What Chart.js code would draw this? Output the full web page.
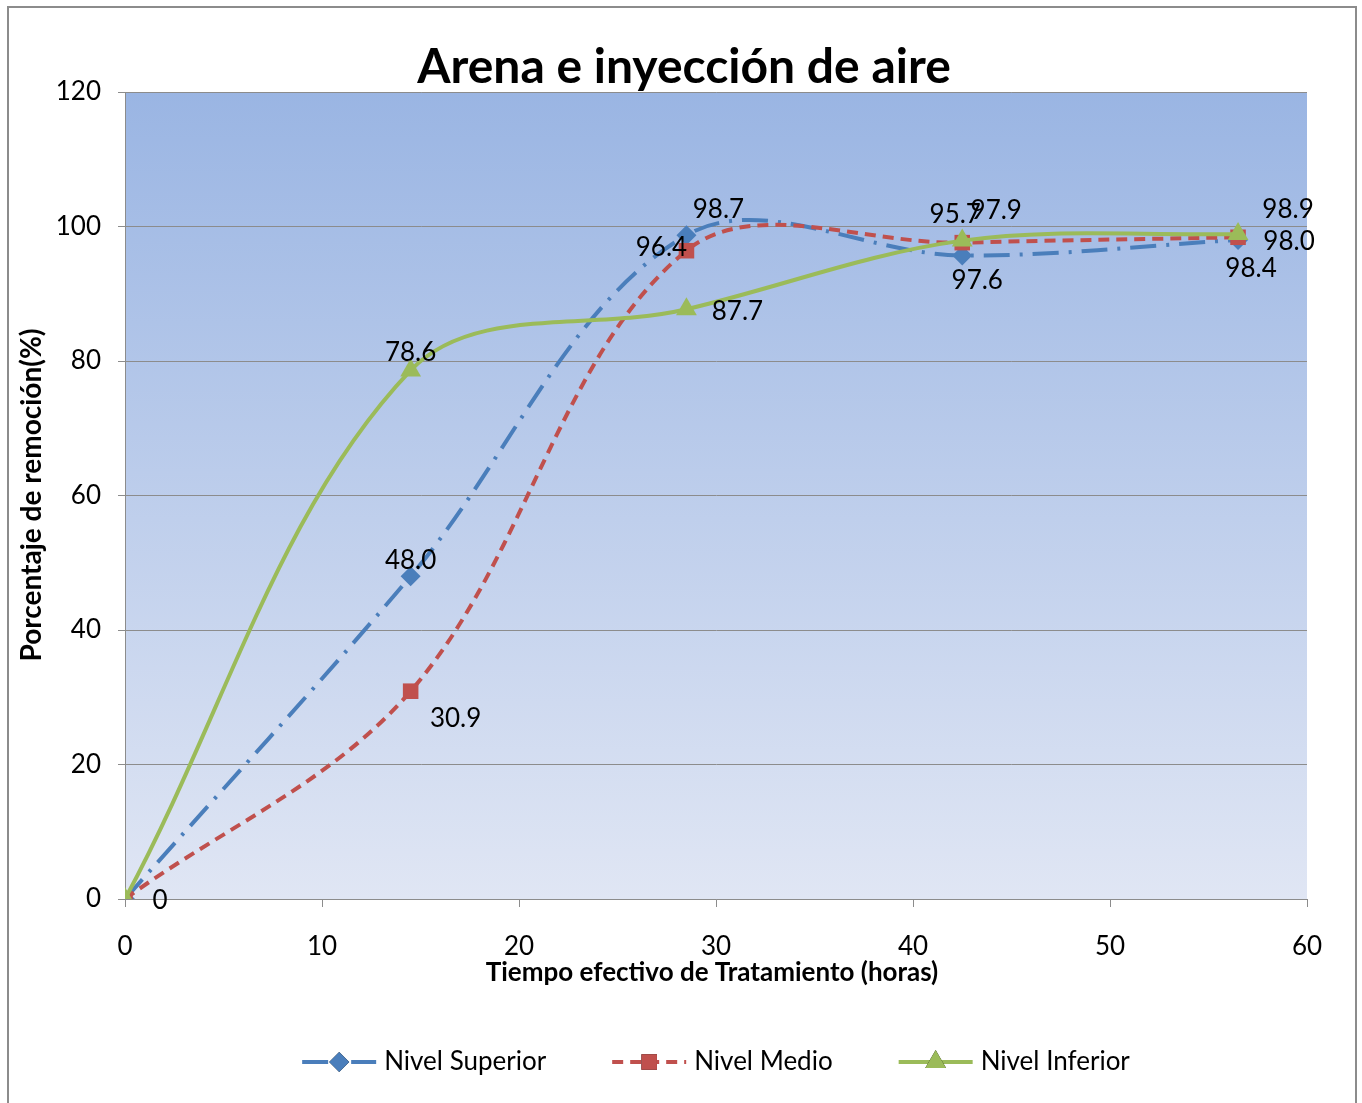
<!DOCTYPE html>
<html>
<head>
<meta charset="utf-8">
<script src="https://cdn.jsdelivr.net/npm/chart.js@4.4.0/dist/chart.umd.min.js"></script>
<style>
  html, body { margin: 0; padding: 0; background: #ffffff; }
  canvas { display: block; }
</style>
</head>
<body>
<canvas id="chart" width="1362" height="1103"></canvas>
<script>
const hours = [0, 14.5, 28.5, 42.5, 56.5];
const nivelSuperior = [0, 48.0, 98.7, 95.7, 98.0];
const nivelMedio = [0, 30.9, 96.4, 97.6, 98.4];
const nivelInferior = [0, 78.6, 87.7, 97.9, 98.9];
const seriesNames = ["Nivel Superior", "Nivel Medio", "Nivel Inferior"];
const chartTitle = "Arena e inyección de aire";
const xTitle = "Tiempo efectivo de Tratamiento (horas)";
const yTitle = "Porcentaje de remoción(%)";

const FONT = "Lato, 'Open Sans', sans-serif";

function toPoints(values) {
  return values.map((v, i) => ({ x: hours[i], y: v }));
}

// where each value label sits relative to its point (dx, dy); null = no label
const labelOffsets = [
  [null, [0, -16], [32, -26], [-7, -41], [51, 2]],
  [null, [45, 27], [-25, -3], [15, 38], [13, 31]],
  [[35, 2], [0, -18], [51, 2], [34, -30], [50, -24]]
];

const bgPlugin = {
  id: "bgPlugin",
  beforeDraw(chart) {
    const ctx = chart.ctx;
    const a = chart.chartArea;
    ctx.save();
    ctx.fillStyle = "#ffffff";
    ctx.fillRect(0, 0, chart.width, chart.height);
    const g = ctx.createLinearGradient(0, a.top, 0, a.bottom);
    g.addColorStop(0, "#9ab5e3");
    g.addColorStop(1, "#e0e6f4");
    ctx.fillStyle = g;
    ctx.fillRect(a.left, a.top, a.right - a.left, a.bottom - a.top);
    ctx.strokeStyle = "#8c8c8c";
    ctx.lineWidth = 2;
    ctx.strokeRect(8, 7, 1348, 1100);
    ctx.restore();
  }
};

const textPlugin = {
  id: "textPlugin",
  afterDraw(chart) {
    const ctx = chart.ctx;
    const a = chart.chartArea;
    ctx.save();
    ctx.fillStyle = "#000000";
    ctx.textAlign = "center";
    ctx.textBaseline = "middle";

    ctx.font = "bold 48px " + FONT;
    ctx.fillText(chartTitle, 684, 68);

    ctx.font = "bold 26px " + FONT;
    ctx.fillText(xTitle, 712, 973);
    ctx.save();
    ctx.translate(32, 495);
    ctx.rotate(-Math.PI / 2);
    ctx.font = "bold 28px " + FONT;
    ctx.fillText(yTitle, 0, 0);
    ctx.restore();

    // value labels
    ctx.font = "26px " + FONT;
    chart.data.datasets.forEach((ds, di) => {
      const meta = chart.getDatasetMeta(di);
      meta.data.forEach((pt, i) => {
        const off = labelOffsets[di][i];
        if (!off) return;
        ctx.fillText(ds.data[i].y === 0 ? "0" : ds.data[i].y.toFixed(1), pt.x + off[0], pt.y + off[1]);
      });
    });

    // legend
    const legendY = 1062;
    const sampleW = 74, textGap = 8, itemGap = 66;
    ctx.font = "26px " + FONT;
    const widths = seriesNames.map(n => sampleW + textGap + ctx.measureText(n).width);
    const total = widths.reduce((s, w) => s + w, 0) + itemGap * (widths.length - 1);
    let x = (a.left + a.right) / 2 - total / 2;
    chart.data.datasets.forEach((ds, di) => {
      ctx.save();
      ctx.strokeStyle = ds.borderColor;
      ctx.lineWidth = ds.borderWidth;
      ctx.setLineDash(ds.borderDash || []);
      ctx.beginPath();
      ctx.moveTo(x, legendY);
      ctx.lineTo(x + sampleW, legendY);
      ctx.stroke();
      ctx.restore();
      Chart.helpers.drawPoint(ctx, {
        pointStyle: ds.pointStyle,
        radius: ds.pointRadius,
        rotation: 0,
        borderWidth: 0
      }, x + sampleW / 2, legendY);
      ctx.fillStyle = ds.pointBackgroundColor;
      ctx.fill();
      ctx.fillStyle = "#000000";
      ctx.textAlign = "left";
      ctx.fillText(seriesNames[di], x + sampleW + textGap, legendY);
      x += widths[di] + itemGap;
    });
    ctx.restore();
  }
};

new Chart(document.getElementById("chart").getContext("2d"), {
  type: "line",
  data: {
    datasets: [
      {
        label: seriesNames[0],
        data: toPoints(nivelSuperior),
        borderColor: "#4a7ebb",
        pointBackgroundColor: "#4a7ebb",
        pointBorderWidth: 0,
        borderWidth: 4,
        borderDash: [26, 10, 3, 10],
        pointStyle: "rectRot",
        pointRadius: 10,
        tension: 0.35,
        order: 2
      },
      {
        label: seriesNames[1],
        data: toPoints(nivelMedio),
        borderColor: "#c0504d",
        pointBackgroundColor: "#c0504d",
        pointBorderWidth: 0,
        borderWidth: 4,
        borderDash: [11, 7],
        pointStyle: "rect",
        pointRadius: 11,
        tension: 0.35,
        order: 1
      },
      {
        label: seriesNames[2],
        data: toPoints(nivelInferior),
        borderColor: "#9bbb59",
        pointBackgroundColor: "#9bbb59",
        pointBorderWidth: 0,
        borderWidth: 4,
        pointStyle: "triangle",
        pointRadius: 12,
        tension: 0.35,
        order: 0
      }
    ]
  },
  options: {
    responsive: false,
    animation: false,
    events: [],
    layout: { padding: { top: 92, right: 55, bottom: 144, left: 0 } },
    plugins: {
      legend: { display: false },
      title: { display: false },
      tooltip: { enabled: false }
    },
    scales: {
      x: {
        type: "linear",
        min: 0,
        max: 60,
        afterFit(scale) { scale.height = 60; },
        ticks: { stepSize: 10, color: "#000000", font: { family: FONT, size: 26 }, padding: 24, maxRotation: 0 },
        grid: { drawOnChartArea: false, tickLength: 8, color: "#8c8c8c" },
        border: { display: true, color: "#8c8c8c", width: 1 }
      },
      y: {
        min: 0,
        max: 120,
        afterFit(scale) { scale.width = 125; },
        ticks: { stepSize: 20, color: "#000000", font: { family: FONT, size: 26 }, padding: 17 },
        grid: { color: "#8c8c8c", tickLength: 7 },
        border: { display: true, color: "#8c8c8c", width: 1 }
      }
    }
  },
  plugins: [bgPlugin, textPlugin]
});
</script>
</body>
</html>
